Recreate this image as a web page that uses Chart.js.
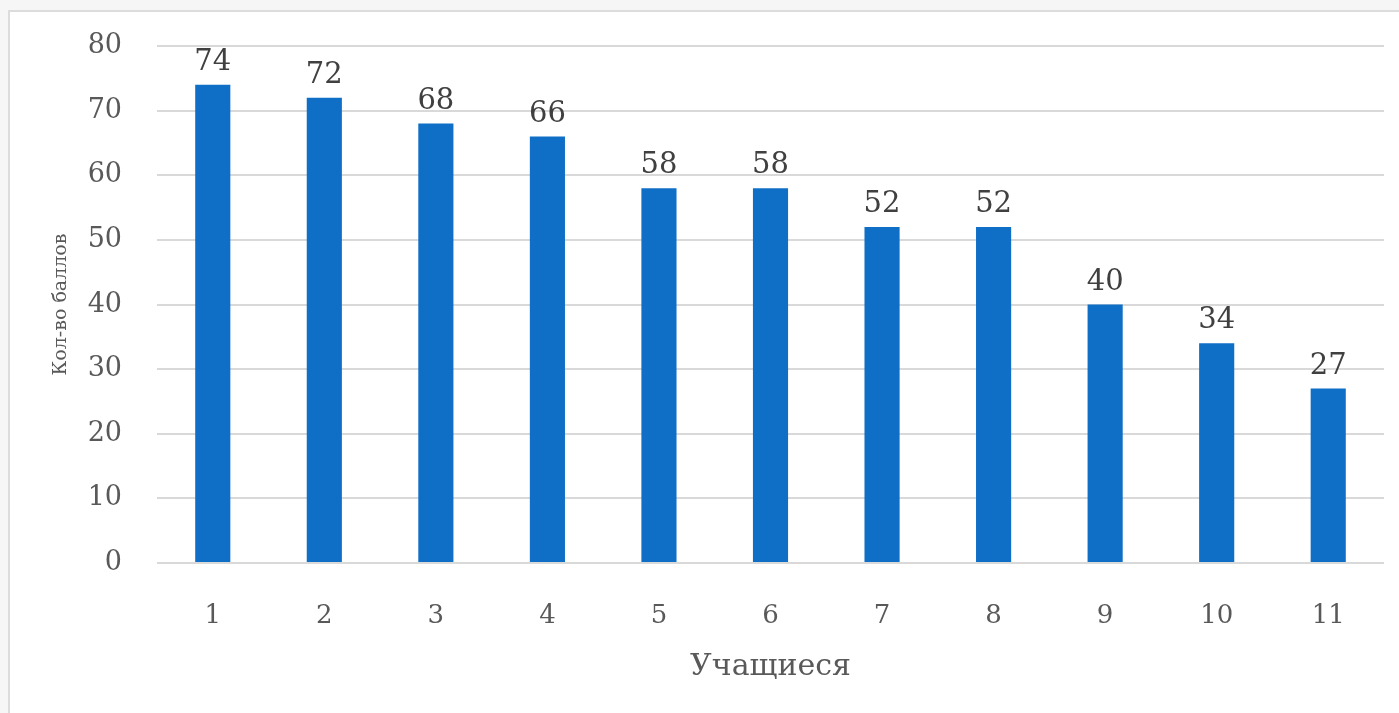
<!DOCTYPE html>
<html>
<head>
<meta charset="utf-8">
<script src="https://cdn.jsdelivr.net/npm/chart.js@4"></script>
<style>
  html, body { margin: 0; padding: 0; }
  body {
    width: 1399px; height: 713px; overflow: hidden;
    background: #f6f6f6;
  }
  #frame {
    position: absolute; left: 8px; top: 10px; width: 1400px; height: 720px;
    background: #fff;
    border-left: 2px solid #dcdcdc;
    border-top: 2px solid #dcdcdc;
  }
  #wrap { position: absolute; left: 0; top: 0; width: 1399px; height: 713px; }
</style>
</head>
<body>
<div id="frame"></div>
<div id="wrap"><canvas id="scoreChart" width="1399" height="713"></canvas></div>
<script>
const students = ['1', '2', '3', '4', '5', '6', '7', '8', '9', '10', '11'];
const scores = [74, 72, 68, 66, 58, 58, 52, 52, 40, 34, 27];
const yTicks = [0, 10, 20, 30, 40, 50, 60, 70, 80];

const serif = "'DejaVu Serif', 'Liberation Serif', serif";

// draws the value above each bar
const barValues = {
    id: 'barValues',
    afterDatasetsDraw(chart) {
        const ctx = chart.ctx;
        const meta = chart.getDatasetMeta(0);
        ctx.save();
        ctx.font = '29px ' + serif;
        ctx.fillStyle = '#404040';
        ctx.textAlign = 'center';
        ctx.textBaseline = 'bottom';
        meta.data.forEach((bar, i) => {
            ctx.fillText(String(scores[i]), bar.x, bar.y - 8);
        });
        ctx.restore();
    }
};

const ctx = document.getElementById('scoreChart').getContext('2d');
const scoreChart = new Chart(ctx, {
    type: 'bar',
    data: {
        labels: students,
        datasets: [{
            data: scores,
            backgroundColor: '#0F6FC6',
            categoryPercentage: 1,
            barPercentage: 0.315
        }]
    },
    options: {
        responsive: false,
        animation: false,
        layout: { padding: { left: 50, right: 15, top: 46, bottom: 28 } },
        plugins: {
            legend: { display: false },
            tooltip: { enabled: false }
        },
        scales: {
            x: {
                afterFit(scale) { scale.height = 122; },
                grid: { display: false },
                border: { display: false },
                ticks: { color: '#595959', font: { family: serif, size: 26 }, padding: 30 },
                title: {
                    display: true, text: 'Учащиеся', color: '#595959',
                    font: { family: serif, size: 30 }, padding: { top: 4, bottom: 0 }
                }
            },
            y: {
                min: 0, max: 80,
                afterBuildTicks(scale) { scale.ticks = yTicks.map(v => ({ value: v })); },
                afterFit(scale) { scale.width = 107; scale.paddingTop = 0; },
                grid: { color: '#d9d9d9', lineWidth: 2, drawTicks: false },
                border: { display: false },
                ticks: { color: '#595959', font: { family: serif, size: 27 }, padding: 35 },
                title: {
                    display: true, text: 'Кол-во баллов', color: '#595959',
                    font: { family: serif, size: 19 }, padding: 0
                }
            }
        }
    },
    plugins: [barValues]
});
</script>
</body>
</html>
